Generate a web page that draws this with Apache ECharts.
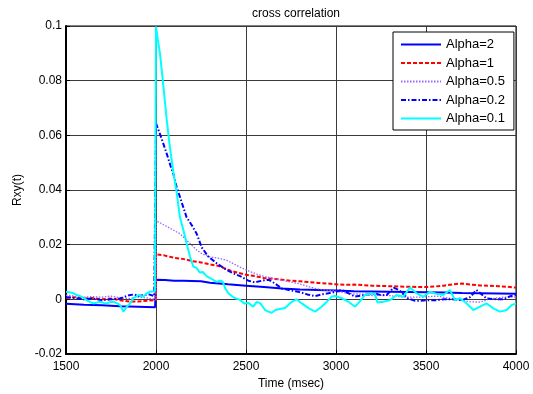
<!DOCTYPE html>
<html>
<head>
<meta charset="utf-8">
<title>cross correlation</title>
<script src="https://cdn.jsdelivr.net/npm/echarts@6/dist/echarts.min.js"></script>
<style>
  html, body { margin: 0; padding: 0; background: #fff; }
  #chart { width: 533px; height: 394px; }
</style>
</head>
<body>
<div id="chart"></div>
<script>
// Axis ticks
const timeTicks = [1500, 2000, 2500, 3000, 3500, 4000];
const rxyTicks = [-0.02, 0, 0.02, 0.04, 0.06, 0.08, 0.1];

const seriesNames = ['Alpha=2', 'Alpha=1', 'Alpha=0.5', 'Alpha=0.2', 'Alpha=0.1'];

// Cross-correlation estimates, [time (msec), Rxy]
const alpha2 = [
  [1500, -0.0016], [1600, -0.002], [1700, -0.0022], [1800, -0.0025], [1900, -0.0027],
  [1995, -0.0029], [2000, -0.0029], [2000, 0.0072], [2050, 0.0071], [2100, 0.0068],
  [2150, 0.0068], [2200, 0.0067], [2250, 0.0066], [2300, 0.0061], [2350, 0.0058],
  [2400, 0.0055], [2500, 0.005], [2600, 0.0045], [2700, 0.004], [2800, 0.0036],
  [2900, 0.0034], [3000, 0.0032], [3100, 0.003], [3200, 0.0029], [3300, 0.0028],
  [3400, 0.0027], [3500, 0.0026], [3600, 0.0025], [3700, 0.0023], [3800, 0.0022],
  [3900, 0.0021], [4000, 0.002]
];

const alpha1 = [
  [1500, 0.0005], [1550, 0.0008], [1600, 0.0003], [1650, 0.0005], [1700, 0.0],
  [1750, 0.0003], [1800, -0.0003], [1850, -0.0008], [1900, -0.0008], [1950, -0.0005],
  [2000, -0.0003], [2000, 0.0165], [2050, 0.016], [2100, 0.0152], [2150, 0.0148],
  [2200, 0.014], [2250, 0.0135], [2300, 0.0128], [2350, 0.0122], [2400, 0.0108],
  [2450, 0.0098], [2500, 0.009], [2550, 0.0085], [2600, 0.0078], [2650, 0.0075],
  [2700, 0.0072], [2750, 0.0068], [2800, 0.0066], [2850, 0.0063], [2900, 0.006],
  [2950, 0.0058], [3000, 0.0055], [3050, 0.0053], [3100, 0.0054], [3150, 0.0052],
  [3200, 0.005], [3300, 0.0048], [3400, 0.0046], [3500, 0.0045], [3550, 0.0047],
  [3600, 0.005], [3650, 0.0055], [3700, 0.0058], [3750, 0.0054], [3800, 0.0051],
  [3850, 0.005], [3900, 0.0048], [3950, 0.0046], [4000, 0.0043]
];

const alpha05 = [
  [1500, 0.0015], [1550, 0.0012], [1600, 0.0008], [1650, 0.001], [1700, 0.0008],
  [1750, 0.0012], [1800, 0.0005], [1850, 0.0003], [1900, 0.0008], [1950, 0.0005],
  [2000, 0.0], [2000, 0.0288], [2050, 0.027], [2100, 0.0252], [2133, 0.024],
  [2180, 0.021], [2226, 0.018], [2260, 0.0165], [2300, 0.0155], [2350, 0.015],
  [2393, 0.0143], [2430, 0.013], [2467, 0.0118], [2510, 0.0105], [2560, 0.0092],
  [2606, 0.0083], [2650, 0.0077], [2698, 0.007], [2750, 0.0063], [2791, 0.0058],
  [2840, 0.0048], [2884, 0.004], [2930, 0.0035], [2976, 0.0032], [3020, 0.0027],
  [3069, 0.0022], [3110, 0.002], [3161, 0.0018], [3200, 0.0014], [3280, 0.0015],
  [3374, 0.0008], [3467, 0.0008], [3559, 0.0012], [3650, 0.0002], [3745, -0.0009],
  [3800, -0.001], [3860, 0.0002], [3930, 0.0008], [4000, 0.0008]
];

const alpha02 = [
  [1500, 0.0008], [1550, 0.0005], [1600, 0.0], [1650, 0.0003], [1700, -0.0003],
  [1750, 0.0], [1800, 0.0003], [1850, 0.0015], [1880, 0.0018], [1900, 0.0012],
  [1930, 0.0015], [1960, 0.0018], [1990, 0.0012], [2000, 0.0012], [2000, 0.0644],
  [2030, 0.059], [2059, 0.0534], [2080, 0.049], [2096, 0.046], [2115, 0.041],
  [2133, 0.0375], [2150, 0.034], [2170, 0.03], [2200, 0.027], [2226, 0.024],
  [2254, 0.019], [2291, 0.0156], [2337, 0.0132], [2393, 0.0107], [2430, 0.0095],
  [2467, 0.0085], [2513, 0.0068], [2550, 0.0062], [2587, 0.0068], [2625, 0.0072],
  [2661, 0.0058], [2698, 0.004], [2745, 0.0033], [2791, 0.0028], [2840, 0.0018],
  [2884, 0.0012], [2920, 0.0018], [2958, 0.0022], [3000, 0.0028], [3032, 0.0034],
  [3070, 0.0022], [3106, 0.001], [3161, 0.0016], [3217, 0.0022], [3250, 0.0015],
  [3282, 0.0016], [3320, 0.0043], [3350, 0.0034], [3400, 0.0003], [3440, -0.0005],
  [3467, -0.0005], [3520, -0.0003], [3559, -0.0003], [3600, 0.0], [3650, 0.0],
  [3700, -0.0003], [3745, 0.0008], [3780, 0.0034], [3837, 0.0003], [3900, 0.0],
  [3930, 0.0], [3970, 0.0012], [4000, 0.0016]
];

const alpha01 = [
  [1500, 0.0028], [1520, 0.0026], [1541, 0.0022], [1560, 0.0016], [1578, 0.0012],
  [1600, 0.0004], [1615, -0.0003], [1635, -0.001], [1652, -0.0015], [1670, -0.0012],
  [1689, -0.0009], [1710, -0.0013], [1726, -0.0015], [1745, -0.001], [1763, -0.0009],
  [1785, -0.0015], [1800, -0.0021], [1819, -0.0045], [1837, -0.0027], [1856, -0.0015],
  [1874, 0.0004], [1890, 0.001], [1902, 0.0016], [1915, 0.0012], [1930, 0.001],
  [1948, 0.0022], [1965, 0.0028], [1976, 0.0034], [1994, 0.003], [2000, 0.0028],
  [2000, 0.0998], [2010, 0.095], [2022, 0.09], [2041, 0.078], [2059, 0.066],
  [2073, 0.058], [2087, 0.051], [2100, 0.045], [2115, 0.039], [2133, 0.03],
  [2152, 0.0254], [2170, 0.0205], [2189, 0.0156], [2207, 0.012], [2225, 0.0115],
  [2244, 0.0098], [2260, 0.01], [2281, 0.0085], [2300, 0.0078], [2320, 0.007],
  [2337, 0.0064], [2355, 0.0068], [2370, 0.0065], [2385, 0.004], [2402, 0.0022],
  [2421, 0.0012], [2440, 0.0004], [2467, -0.0002], [2490, -0.0015], [2513, -0.0013],
  [2540, -0.0027], [2560, -0.0009], [2580, -0.0015], [2606, -0.0039], [2625, -0.0045],
  [2643, -0.0049], [2661, -0.004], [2680, -0.0036], [2717, -0.0032], [2754, -0.0009],
  [2781, 0.0], [2810, -0.0015], [2847, -0.0032], [2884, -0.0045], [2920, -0.0027],
  [2949, -0.0009], [2976, 0.001], [2995, 0.0012], [3032, 0.0004], [3069, -0.0009],
  [3106, -0.0027], [3130, -0.0009], [3161, 0.0016], [3198, 0.0022], [3217, 0.002],
  [3230, -0.0012], [3263, -0.0009], [3300, -0.0003], [3337, 0.0016], [3374, 0.001],
  [3411, 0.0043], [3448, 0.0022], [3485, 0.001], [3522, 0.0028], [3559, 0.002],
  [3596, 0.0016], [3633, 0.0034], [3661, -0.0003], [3689, 0.0004], [3726, -0.0015],
  [3763, -0.0039], [3800, -0.0027], [3837, -0.0015], [3874, -0.0033], [3911, -0.0045],
  [3948, -0.0039], [3976, -0.0021], [4000, -0.0015]
];

const FONT = '"Liberation Sans", Arial, sans-serif';

const lineStyles = [
  { color: '#0000ff', width: 2, type: 'solid' },
  { color: '#ff0000', width: 2, type: [4, 2] },
  { color: '#9966ff', width: 1.3, type: [1.5, 1.5] },
  { color: '#0000ff', width: 2, type: [5, 2, 1.5, 2] },
  { color: '#00ffff', width: 2, type: 'solid' }
];
const seriesData = [alpha2, alpha1, alpha05, alpha02, alpha01];

const chart = echarts.init(document.getElementById('chart'), null, { renderer: 'canvas' });

const tickFmt = v => String(parseFloat(v.toFixed(4)));

chart.setOption({
  animation: false,
  backgroundColor: '#ffffff',
  textStyle: { fontFamily: FONT },
  title: {
    text: 'cross correlation',
    left: 291, top: 3, textAlign: 'center',
    textStyle: { fontSize: 12, fontWeight: 'normal', color: '#000', fontFamily: FONT }
  },
  grid: {
    left: 66, right: 17, top: 26, bottom: 40,
    outerBoundsMode: 'none',
    containLabel: false,
    show: true, borderColor: '#000', borderWidth: 1, backgroundColor: '#fff'
  },
  legend: {
    orient: 'vertical',
    left: 393, top: 32,
    data: seriesNames,
    backgroundColor: '#fff',
    borderColor: '#000', borderWidth: 1,
    padding: [6, 9, 5, 7],
    itemWidth: 40, itemHeight: 14, itemGap: 5.5, itemTextGap: 5,
    itemStyle: { opacity: 0, borderWidth: 0 },
    textStyle: { fontSize: 13, color: '#000', fontFamily: FONT }
  },
  xAxis: {
    type: 'value',
    min: timeTicks[0], max: timeTicks[timeTicks.length - 1], interval: 500,
    name: 'Time (msec)', nameLocation: 'middle', nameGap: 24,
    nameTextStyle: { fontSize: 12, color: '#000', fontFamily: FONT },
    axisLine: { show: true, onZero: false, lineStyle: { color: '#000', width: 2 } },
    axisTick: { show: true, inside: true, length: 4, lineStyle: { color: '#000' } },
    axisLabel: { fontSize: 12, color: '#000', margin: 7, fontFamily: FONT, formatter: v => String(v) },
    splitLine: { show: true, lineStyle: { color: '#3a3a3a', width: 1 } }
  },
  yAxis: {
    type: 'value',
    min: rxyTicks[0], max: rxyTicks[rxyTicks.length - 1], interval: 0.02,
    name: 'Rxy(t)', nameLocation: 'middle', nameGap: 32, nameRotate: 90,
    nameTextStyle: { fontSize: 12, color: '#000', fontFamily: FONT },
    axisLine: { show: true, onZero: false, lineStyle: { color: '#000', width: 2 } },
    axisTick: { show: true, inside: true, length: 4, lineStyle: { color: '#000' } },
    axisLabel: { fontSize: 12, color: '#000', margin: 4, fontFamily: FONT, formatter: tickFmt },
    splitLine: { show: true, lineStyle: { color: '#3a3a3a', width: 1 } }
  },
  series: seriesNames.map((name, i) => ({
    name,
    type: 'line',
    data: seriesData[i],
    showSymbol: false,
    symbol: 'none',
    lineStyle: lineStyles[i],
    itemStyle: { color: lineStyles[i].color },
    clip: true,
    z: 2 + i
  }))
});
</script>
</body>
</html>
